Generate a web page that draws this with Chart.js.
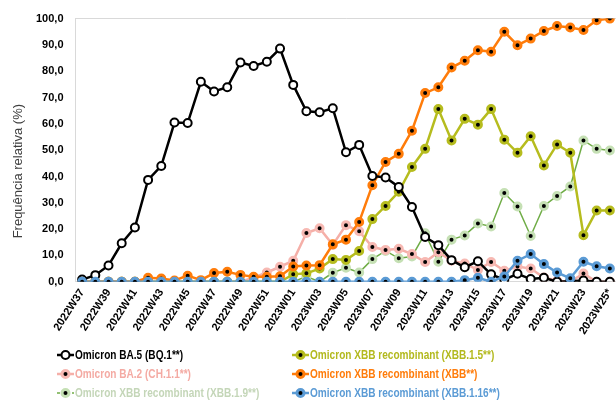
<!DOCTYPE html>
<html>
<head>
<meta charset="utf-8">
<script src="https://cdn.jsdelivr.net/npm/chart.js@4/dist/chart.umd.min.js"></script>
<style>
  html, body { margin: 0; padding: 0; background: #fff; overflow: hidden; }
  #wrap { position: relative; width: 626px; height: 342px; }
  #legend { position: absolute; left: 0; top: 0; width: 616px; height: 401px; pointer-events: none; }
  .item { position: absolute; height: 16px; font: bold 12px "Liberation Sans", Arial, sans-serif; line-height: 16px; white-space: nowrap; }
  .item svg { position: absolute; left: 0; top: 2px; }
  .item span { position: absolute; left: 18px; top: 0; transform: scaleX(0.84); transform-origin: 0 50%; }
</style>
</head>
<body>
<div id="wrap"><canvas id="chart"></canvas></div>
<div id="legend"></div>
<script>
// weeks on the x axis (every second one gets a label)
const weeks = [
  "2022W37","2022W38","2022W39","2022W40","2022W41","2022W42","2022W43","2022W44",
  "2022W45","2022W46","2022W47","2022W48","2022W49","2022W50","2022W51","2022W52",
  "2023W01","2023W02","2023W03","2023W04","2023W05","2023W06","2023W07","2023W08",
  "2023W09","2023W10","2023W11","2023W12","2023W13","2023W14","2023W15","2023W16",
  "2023W17","2023W18","2023W19","2023W20","2023W21","2023W22","2023W23","2023W24",
  "2023W25*"
]

// relative frequency (%) per lineage
const ba5 = [0.8, 2.5, 6.2, 14.6, 20.6, 38.7, 44.0, 60.5, 60.3, 76.0, 72.3, 73.9, 83.3, 82.0, 83.6, 88.6,
  74.8, 64.8, 64.4, 65.9, 49.2, 52.0, 40.2, 39.6, 36.0, 28.4, 17.0, 13.9, 8.2, 5.5, 7.8, 2.8,
  0.8, 3.0, 1.0, 1.5, 0.0, 0.2, 0.5, 0.0, 0.0]
const ba2 = [0, 0, 0, 0, 0, 0, 0, 0, 0, 0, 0, 0, 0, 1.5, 3.5, 5.7,
  8.0, 18.5, 20.3, 14.0, 21.5, 19.2, 13.2, 12.1, 12.5, 10.5, 7.5, 11.2, 8.0, 6.9, 4.5, 7.5,
  4.2, 5.8, 5.0, 1.6, 0.4, 0.0, 3.1, 0.0, 0.0]
const xbb19 = [0, 0, 0, 0, 0, 0, 0, 0, 0, 0, 0, 0, 0, 0, 0, 0,
  0, 2.0, 0, 3.4, 5.3, 3.5, 8.6, 11.7, 8.9, 9.6, 18.4, 7.6, 16.0, 17.6, 22.1, 21.0,
  33.7, 28.6, 17.4, 28.8, 32.6, 36.2, 53.7, 50.5, 49.9]
const xbb15 = [0, 0, 0, 0, 0, 0, 0, 0, 0, 0, 0, 0, 0, 0, 0, 0,
  2.8, 3.2, 5.0, 8.6, 8.3, 11.7, 23.8, 28.8, 34.2, 43.6, 50.5, 65.6, 53.7, 61.9, 59.7, 65.6,
  54.0, 49.0, 55.3, 44.2, 52.2, 49.0, 17.7, 27.1, 27.1]
const xbb = [0, 0, 0, 0, 0, 1.5, 1.2, 0.5, 2.3, 0.6, 3.3, 3.8, 2.6, 1.9, 1.9, 2.1,
  5.8, 6.2, 6.3, 14.2, 16.0, 22.7, 36.7, 45.5, 48.6, 57.4, 71.7, 73.9, 81.4, 84.0, 88.0, 87.4,
  95.0, 89.9, 92.4, 95.3, 97.2, 96.6, 95.7, 99.4, 100.0]
const xbb116 = [0, 0, 0, 0, 0, 0, 0, 0, 0, 0, 0, 0, 0, 0, 0, 0,
  0, 0, 0, 0, 0, 0, 0, 0, 0, 0, 0, 0, 0, 0.6, 1.5, 0,
  2.0, 8.0, 10.5, 6.7, 3.5, 1.3, 7.6, 5.9, 5.0]

const yTicks = [0, 10, 20, 30, 40, 50, 60, 70, 80, 90, 100]

// legend layout: column, row
const series = [
  {name: "Omicron BA.5 (BQ.1**)", data: ba5, line: "#000000", mark: "#000000", fill: "#ffffff", text: "#000000", width: 2.5, col: 0, row: 0, order: 1},
  {name: "Omicron BA.2 (CH.1.1**)", data: ba2, line: "#F5AFA8", mark: "#F7B9B3", fill: "#000000", text: "#F4AAA3", width: 2.5, col: 0, row: 1, order: 5},
  {name: "Omicron XBB recombinant (XBB.1.9**)", data: xbb19, line: "#70AD47", mark: "#C5E0B4", fill: "#000000", text: "#C4D6B8", width: 1.5, col: 0, row: 2, order: 6},
  {name: "Omicron XBB recombinant (XBB.1.5**)", data: xbb15, line: "#B6BC1E", mark: "#B6BC1E", fill: "#000000", text: "#B3B91E", width: 2.5, col: 1, row: 0, order: 3},
  {name: "Omicron XBB recombinant (XBB**)", data: xbb, line: "#FF7C0A", mark: "#FF7C0A", fill: "#000000", text: "#FF7C0A", width: 2.5, col: 1, row: 1, order: 2},
  {name: "Omicron XBB recombinant (XBB.1.16**)", data: xbb116, line: "#5B9BD5", mark: "#5B9BD5", fill: "#000000", text: "#5B9BD5", width: 2.5, col: 1, row: 2, order: 0}
]

const datasets = series.map(function(s) {
  var open = s.fill == "#ffffff"
  return {
    label: s.name,
    data: s.data,
    borderColor: s.line,
    borderWidth: s.width,
    pointRadius: open ? 4 : 3.5,
    pointBorderWidth: open ? 2 : 3,
    pointBackgroundColor: s.fill,
    pointBorderColor: s.mark,
    tension: 0,
    order: s.order
  }
})

// y axis title, drawn a bit below the middle like in the original
const yTitle = {
  id: "yTitle",
  afterDraw(chart) {
    const ctx = chart.ctx
    const a = chart.chartArea
    ctx.save()
    ctx.translate(18, (a.top + a.bottom) / 2 + 21)
    ctx.rotate(-Math.PI / 2)
    ctx.font = "13px 'Liberation Sans', Arial, sans-serif"
    ctx.fillStyle = "#404040"
    ctx.textAlign = "center"
    ctx.textBaseline = "middle"
    ctx.fillText("Frequência relativa (%)", 0, 0)
    ctx.restore()
  }
}

Chart.defaults.font.family = "'Liberation Sans', Arial, sans-serif"
Chart.defaults.color = "#000"

new Chart(document.getElementById("chart"), {
  type: "line",
  data: {labels: weeks, datasets: datasets},
  plugins: [yTitle],
  options: {
    responsive: true,
    maintainAspectRatio: false,
    animation: false,
    layout: {padding: {left: 24, top: 16, right: 0, bottom: 0}},
    plugins: {legend: {display: false}, tooltip: {enabled: false}},
    scales: {
      x: {
        offset: true,
        grid: {color: "transparent", drawTicks: false},
        border: {display: true, color: "#D9D9D9", width: 1},
        ticks: {
          autoSkip: false,
          minRotation: 57,
          maxRotation: 57,
          padding: 5,
          font: {size: 11, weight: "bold"},
          callback: function(v, i) { return i % 2 == 0 ? weeks[i] : "" }
        }
      },
      y: {
        min: 0,
        max: 100,
        afterBuildTicks: function(axis) { axis.ticks = yTicks.map(function(v) { return {value: v} }) },
        grid: {drawTicks: false, color: function(c) { return c.tick && c.tick.value == 100 ? "#D9D9D9" : "transparent" }},
        border: {display: true, color: "#D9D9D9", width: 1},
        ticks: {
          padding: 12,
          font: {size: 11, weight: "bold"},
          callback: function(v) { return v.toFixed(1).replace(".", ",") }
        }
      }
    }
  }
})

// legend in two columns under the chart
const legend = document.getElementById("legend")
series.forEach(function(s) {
  var div = document.createElement("div")
  div.className = "item"
  div.style.left = (s.col == 0 ? 57 : 292) + "px"
  div.style.top = (347 + s.row * 19) + "px"
  div.style.color = s.text
  var dash = s.width < 2 ? ' stroke-dasharray="3 2"' : ""
  div.innerHTML = '<svg width="18" height="12"><line x1="0" y1="6" x2="17" y2="6" stroke="' + s.line +
    '" stroke-width="' + s.width + '"' + dash + '/><circle cx="8.5" cy="6" r="' + (s.fill == "#ffffff" ? 4 : 3.5) +
    '" fill="' + s.fill + '" stroke="' + s.mark + '" stroke-width="' + (s.fill == "#ffffff" ? 2 : 3) + '"/></svg><span>' + s.name + '</span>'
  legend.appendChild(div)
})
</script>
</body>
</html>
